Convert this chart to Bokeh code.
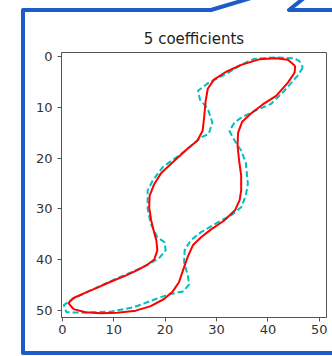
from bokeh.plotting import figure
from bokeh.models import Range1d, FixedTicker, InlineStyleSheet
from bokeh.embed import file_html
from bokeh.resources import INLINE

# Fourier reconstruction with 5 coefficients (closed contour, image coordinates)
recon_x = [45.3, 45.2, 43.9, 41.6, 39.0, 36.7, 35.0, 34.2, 34.1, 34.4, 34.8, 34.8,
           34.5, 33.6, 31.5, 28.9, 27.0, 25.4, 24.4, 23.5, 22.7, 21.5, 19.8, 17.2,
           14.3, 10.7, 7.5, 4.5, 2.2, 1.2, 2.2, 4.2, 6.5, 9.4, 12.3, 14.6, 16.6,
           17.9, 18.5, 18.3, 17.9, 17.3, 16.9, 17.0, 17.9, 19.2, 21.8, 24.2, 26.3,
           27.3, 27.6, 27.9, 28.3, 29.5, 31.8, 34.8, 38.3, 41.6, 43.9, 45.3]
recon_y = [1.8, 3.1, 5.1, 7.7, 9.4, 11.2, 12.8, 15.0, 17.5, 20.5, 23.4, 26.4,
           28.3, 30.3, 32.3, 34.1, 35.6, 37.2, 39.5, 42.1, 44.5, 46.3, 47.8, 49.2,
           50.1, 50.5, 50.6, 50.4, 49.8, 48.6, 47.6, 46.7, 45.7, 44.4, 43.2, 42.1, 41.0,
           40.0, 38.2, 36.2, 34.8, 32.3, 29.7, 27.4, 25.1, 23.0, 20.5, 18.3, 16.5,
           14.6, 11.9, 8.7, 6.3, 4.5, 3.0, 1.6, 0.5, 0.3, 0.6, 1.8]

# Original traced contour
contour_x = [46.8, 45.8, 43.2, 40.6, 36.7, 34.8, 33.5, 32.5, 33.5, 34.8, 35.7, 36.1,
             35.7, 34.8, 32.8, 30.2, 27.0, 25.0, 23.8, 23.7, 24.4, 24.7, 23.5, 20.7,
             18.2, 14.0, 9.4, 3.6, 0.8, 0.3, 2.0, 5.5, 10.7, 15.3, 18.8, 20.1, 19.9,
             18.5, 17.2, 16.6, 16.6, 17.6, 19.6, 23.1, 27.0, 28.5, 29.2, 28.3, 26.8,
             26.4, 28.5, 32.4, 34.7, 37.3, 41.6, 45.1, 46.1, 46.8]
contour_y = [2.1, 3.7, 6.7, 9.3, 11.0, 12.0, 13.0, 14.6, 16.5, 18.5, 20.9, 25.1,
             27.4, 29.7, 31.3, 32.7, 34.6, 36.2, 38.2, 40.6, 43.1, 44.9, 46.3, 46.9,
             47.8, 49.4, 50.3, 50.5, 50.4, 49.0, 47.8, 46.1, 43.7, 41.7, 39.8, 38.2, 36.6,
             35.6, 32.9, 29.9, 26.4, 24.4, 21.7, 19.2, 15.9, 15.2, 13.0, 10.2, 8.5,
             6.7, 5.1, 3.1, 1.6, 0.4, 0.1, 0.3, 0.8, 2.1]

tick_values = [0, 10, 20, 30, 40, 50]

# blue callout outline drawn over the page, around the figure
callout_svg = (
    "<svg xmlns='http://www.w3.org/2000/svg' width='332' height='356'>"
    "<g fill='none' stroke='%231d5bc6' stroke-width='4' stroke-linejoin='round'>"
    "<path d='M251 -2 L211 10 L23 10 L23 353 L334 353'/>"
    "<path d='M304 -2 L289 10 L334 10'/>"
    "</g></svg>"
)
callout_css = InlineStyleSheet(css=(
    ":host { position: relative; }\n"
    ":host::after { content: ''; position: absolute; left: 0; top: 0;"
    " width: 332px; height: 356px; pointer-events: none; z-index: 10;"
    " background: url(\"data:image/svg+xml;utf8," + callout_svg + "\") no-repeat; }"
))

p = figure(width=332, height=356, output_backend="svg", toolbar_location=None,
           x_range=Range1d(-0.15, 51.4), y_range=Range1d(51.45, -0.85),
           min_border_left=61, min_border_right=6, min_border_top=52,
           min_border_bottom=39, title="5 coefficients",
           stylesheets=[callout_css])

p.title.align = "center"
p.title.text_font = "DejaVu Sans"
p.title.text_font_size = "15px"
p.title.text_font_style = "normal"
p.title.text_color = "#222222"

p.xgrid.visible = False
p.ygrid.visible = False
p.outline_line_color = "#555555"
p.background_fill_color = "white"
p.border_fill_color = "white"

for ax in (p.xaxis[0], p.yaxis[0]):
    ax.ticker = FixedTicker(ticks=tick_values)
    ax.minor_tick_line_color = None
    ax.major_tick_in = 0
    ax.major_tick_out = 4
    ax.major_tick_line_color = "#555555"
    ax.axis_line_color = "#555555"
    ax.major_label_text_font = "DejaVu Sans"
    ax.major_label_text_font_size = "13px"
    ax.major_label_text_color = "#333333"
p.xaxis.major_label_standoff = 3
p.yaxis.major_label_standoff = 5

p.line(contour_x, contour_y, line_color="#00bfbf", line_width=2, line_dash="6 3")
p.line(recon_x, recon_y, line_color="#ff0000", line_width=2)

open("out.html", "w").write(file_html(p, INLINE))
